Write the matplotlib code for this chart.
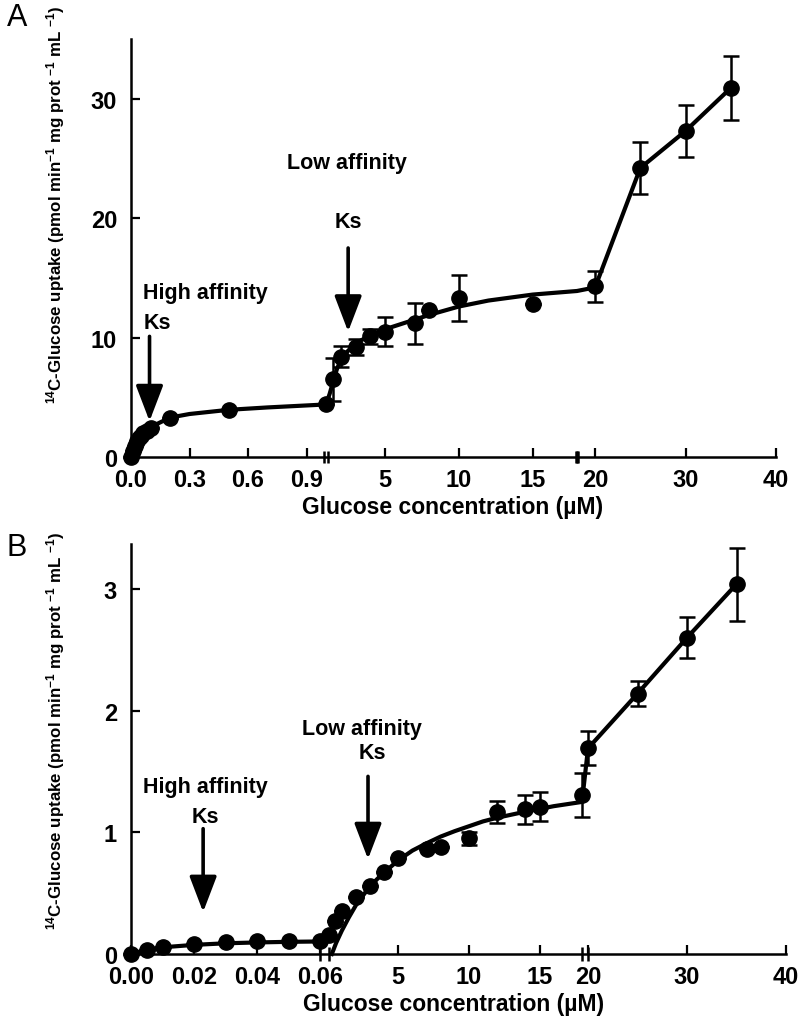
import numpy as np
import matplotlib
matplotlib.use("Agg")
import matplotlib.pyplot as plt
from matplotlib import transforms
from matplotlib.patches import ArrowStyle

plt.rcParams['font.family'] = ['Liberation Sans', 'DejaVu Sans']
plt.rcParams['font.weight'] = 'bold'
plt.rcParams['axes.labelweight'] = 'bold'
plt.rcParams['mathtext.fontset'] = 'custom'
plt.rcParams['mathtext.bf'] = 'Liberation Sans:bold'
plt.rcParams['mathtext.rm'] = 'Liberation Sans:bold'
plt.rcParams['mathtext.default'] = 'bf'

# ---------------- Panel A data ----------------
conc_a = [0, 0.01, 0.02, 0.03, 0.04, 0.05, 0.06, 0.08, 0.1, 0.2, 0.5, 1.0,
          1.5, 2, 3, 4, 5, 7, 8, 10, 15, 20, 25, 30, 35]
uptake_a = [0, 0.5, 0.9, 1.3, 1.6, 1.8, 2.0, 2.2, 2.4, 3.3, 3.9, 4.4,
            6.5, 8.4, 9.2, 10.1, 10.5, 11.2, 12.3, 13.3, 12.8, 14.3, 24.2, 27.3, 30.9]
sem_a = [0, 0, 0, 0, 0, 0, 0, 0, 0, 0, 0, 0,
         1.8, 0.9, 0.7, 0.6, 1.2, 1.7, 0, 1.9, 0, 1.3, 2.2, 2.2, 2.7]
fit_a_x = [0, 0.02, 0.05, 0.1, 0.2, 0.3, 0.5, 0.7, 1.0, 1.25, 1.5, 1.75, 2, 2.5, 3, 4,
           5, 6, 7, 8, 9, 10, 12, 15, 18, 20, 25, 30, 35]
fit_a_y = [0, 0.9, 1.9, 2.5, 3.3, 3.6, 3.95, 4.15, 4.4, 5.3, 6.4, 7.4, 8.1, 8.9, 9.5, 10.2,
           10.7, 11.1, 11.5, 11.9, 12.25, 12.6, 13.1, 13.6, 13.9, 14.2, 24.2, 27.3, 30.9]
xticks_a = [0, 0.3, 0.6, 0.9, 5, 10, 15, 20, 30, 40]
xticklabels_a = ['0.0', '0.3', '0.6', '0.9', '5', '10', '15', '20', '30', '40']
yticks_a = [0, 10, 20, 30]
# axis-break layout for panel A: data knots -> relative positions
knots_a = [0, 1.0, 18, 40]
pos_a = [131, 326, 577, 776]

# ---------------- Panel B data ----------------
conc_b = [0, 0.005, 0.01, 0.02, 0.03, 0.04, 0.05, 0.06, 0.1, 0.5, 1, 2, 3, 4, 5,
          7, 8, 10, 12, 14, 15, 18, 20, 25, 30, 35]
uptake_b = [0, 0.03, 0.06, 0.08, 0.10, 0.105, 0.105, 0.105, 0.16, 0.27, 0.35, 0.47,
            0.56, 0.67, 0.79, 0.86, 0.88, 0.95, 1.17, 1.19, 1.21, 1.31, 1.69, 2.14, 2.60, 3.04]
sem_b = [0, 0, 0, 0, 0, 0, 0, 0, 0, 0, 0, 0, 0, 0, 0,
         0, 0, 0.055, 0.09, 0.12, 0.12, 0.18, 0.14, 0.10, 0.17, 0.30]
fit_b1_x = [0, 0.005, 0.01, 0.02, 0.03, 0.04, 0.05, 0.06]
fit_b1_y = [0, 0.035, 0.055, 0.075, 0.088, 0.095, 0.10, 0.103]
fit_b2_x = [0.3, 0.6, 1, 1.5, 2, 2.5, 3, 3.5, 4, 5, 6, 7, 8, 9, 10, 11, 12, 14, 16, 18,
            20, 25, 30, 35]
fit_b2_y = [0, 0.09, 0.19, 0.30, 0.40, 0.48, 0.555, 0.615, 0.67, 0.77, 0.85, 0.91, 0.965,
            1.01, 1.05, 1.09, 1.12, 1.17, 1.215, 1.25, 1.69, 2.14, 2.60, 3.04]
xticks_b = [0, 0.02, 0.04, 0.06, 5, 10, 15, 20, 30, 40]
xticklabels_b = ['0.00', '0.02', '0.04', '0.06', '5', '10', '15', '20', '30', '40']
yticks_b = [0, 1, 2, 3]
knots_b = [0, 0.06, 0.1, 18, 20, 40]
pos_b = [131, 320, 329, 582, 588, 786]

ylabel = r'$^{14}$C-Glucose uptake (pmol min$^{-1}$ mg prot $^{-1}$ mL $^{-1}$)'
xlabel = 'Glucose concentration (µM)'

W, H = 799, 1020
fig = plt.figure(figsize=(W / 100, H / 100), dpi=100)


def make_scale(knots, pos):
    k = np.asarray(knots, float)
    p = np.asarray(pos, float)

    def fwd(x):
        return np.interp(x, k, p)

    def inv(y):
        return np.interp(y, p, k)
    return fwd, inv


def style_axes(ax, xticks, xticklabels, yticks):
    for s in ['top', 'right']:
        ax.spines[s].set_visible(False)
    for s in ['left', 'bottom']:
        ax.spines[s].set_linewidth(1.8)
    ax.set_xticks(xticks)
    ax.set_xticklabels(xticklabels)
    ax.set_yticks(yticks)
    ax.tick_params(axis='both', direction='in', length=6.5, width=1.6,
                   labelsize=17)
    ax.tick_params(axis='x', pad=8)
    ax.tick_params(axis='y', pad=10)
    for lab in ax.get_xticklabels() + ax.get_yticklabels():
        lab.set_fontweight('bold')


def break_marks(ax, xs, offsets_pt, size=9, mew=1.8):
    base = transforms.blended_transform_factory(ax.transData, ax.transAxes)
    for x, offs in zip(xs, offsets_pt):
        for o in offs:
            tr = transforms.offset_copy(base, fig=fig, x=o, y=0, units='points')
            ax.plot([x], [0], marker='|', markersize=size, mew=mew, color='black',
                    transform=tr, clip_on=False, zorder=5)


arrow_style = ArrowStyle('-|>', head_length=1.1, head_width=0.42)


def arrow(ax, x, tail, tip):
    ax.annotate('', xy=(x, tip), xytext=(x, tail),
                arrowprops=dict(arrowstyle=arrow_style, lw=2.6, color='black',
                                mutation_scale=20, shrinkA=0, shrinkB=0))


ANN = 15.5
YL = 12.2

# ---------------- Panel A ----------------
axA = fig.add_axes([131 / W, 1 - 458 / H, (776 - 131) / W, (458 - 40) / H])
fa, ia = make_scale(knots_a, pos_a)
axA.set_xscale('function', functions=(fa, ia))
axA.set_xlim(0, 40)
axA.set_ylim(0, 35)
axA.plot(fit_a_x, fit_a_y, color='black', lw=3.0, zorder=3, clip_on=False)
axA.errorbar(conc_a, uptake_a, yerr=sem_a, fmt='o', color='black', ms=11,
             capsize=6, elinewidth=1.8, capthick=1.8, zorder=4, clip_on=False)
style_axes(axA, xticks_a, xticklabels_a, yticks_a)
break_marks(axA, [1.0, 18], [[-1.2, 1.4], [-0.9, 0.0, 0.9]])
axA.set_ylabel(ylabel, fontsize=YL)
axA.yaxis.set_label_coords(-0.099, 0.605)
axA.set_xlabel(xlabel, fontsize=16.5)
axA.xaxis.set_label_coords(0.498, -0.092)

arrow(axA, 0.095, 10.1, 3.0)
axA.text(0.063, 13.3, 'High affinity', fontsize=ANN, fontweight='bold',
         ha='left', va='baseline')
axA.text(0.063, 10.8, 'Ks', fontsize=ANN, fontweight='bold', ha='left', va='baseline')
arrow(axA, 2.5, 17.5, 10.5)
axA.text(2.4, 24.2, 'Low affinity', fontsize=ANN, fontweight='bold',
         ha='center', va='baseline')
axA.text(2.5, 19.3, 'Ks', fontsize=ANN, fontweight='bold', ha='center', va='baseline')

# ---------------- Panel B ----------------
axB = fig.add_axes([131 / W, 1 - 955 / H, (786 - 131) / W, (955 - 545) / H])
fb, ib = make_scale(knots_b, pos_b)
axB.set_xscale('function', functions=(fb, ib))
axB.set_xlim(0, 40)
axB.set_ylim(0, 3.37)
axB.plot(fit_b1_x, fit_b1_y, color='black', lw=3.0, zorder=3, clip_on=False)
axB.plot(fit_b2_x, fit_b2_y, color='black', lw=3.0, zorder=3, clip_on=False)
axB.errorbar(conc_b, uptake_b, yerr=sem_b, fmt='o', color='black', ms=11,
             capsize=6, elinewidth=1.8, capthick=1.8, zorder=4, clip_on=False)
style_axes(axB, xticks_b, xticklabels_b, yticks_b)
break_marks(axB, [0.06, 0.1, 18, 20], [[0], [0], [0], [0]], size=10)
axB.set_ylabel(ylabel, fontsize=YL)
axB.yaxis.set_label_coords(-0.098, 0.547)
axB.set_xlabel(xlabel, fontsize=16.5)
axB.xaxis.set_label_coords(0.492, -0.092)

arrow(axB, 0.0229, 1.03, 0.345)
axB.text(0.0235, 1.33, 'High affinity', fontsize=ANN, fontweight='bold',
         ha='center', va='baseline')
axB.text(0.0235, 1.085, 'Ks', fontsize=ANN, fontweight='bold', ha='center', va='baseline')
arrow(axB, 2.86, 1.46, 0.78)
axB.text(2.43, 1.81, 'Low affinity', fontsize=ANN, fontweight='bold',
         ha='center', va='baseline')
axB.text(3.14, 1.615, 'Ks', fontsize=ANN, fontweight='bold', ha='center', va='baseline')

fig.text(17 / W, 1 - 18 / H, 'A', fontsize=22, fontweight='normal', ha='center', va='center')
fig.text(17 / W, 1 - 548 / H, 'B', fontsize=22, fontweight='normal', ha='center', va='center')

fig.savefig('out.png', dpi=100)
